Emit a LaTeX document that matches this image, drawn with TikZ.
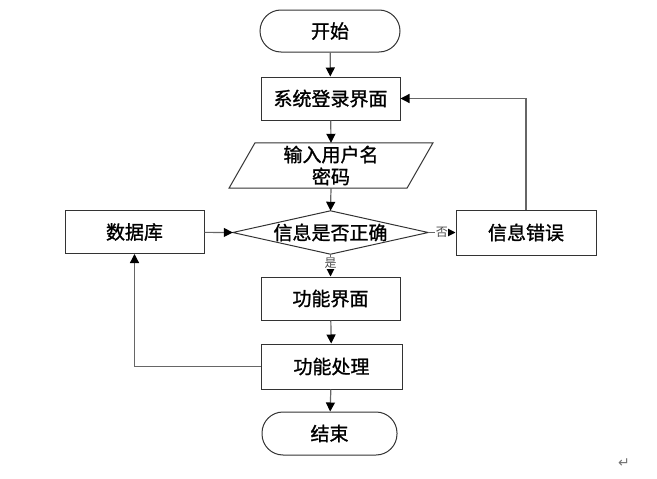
\documentclass[tikz,border=0pt]{standalone}
\usepackage{fontspec}
\newfontfamily\cjk[FakeBold=1.2]{Noto Sans CJK SC}
\newfontfamily\cjklight{Noto Sans CJK SC}
\newfontfamily\dejavu{DejaVu Sans}
\usetikzlibrary{arrows.meta}
\tikzset{
  box/.style={draw=black!80, line width=1pt, minimum width=139pt, minimum height=43pt, inner sep=0pt, font=\cjk\fontsize{19}{22}\selectfont},
  term/.style={box, rounded corners=21pt},
  plain/.style={inner sep=0pt, font=\cjk\fontsize{19}{22}\selectfont},
  shapeline/.style={draw=black!80, line width=1pt},
  conn/.style={draw=black!60, line width=1.2pt, -{Triangle[length=9pt,width=9pt,color=black]}},
  lbl/.style={fill=white, inner sep=0.5pt, font=\cjklight\fontsize{12}{13}\selectfont, text=black!70}
}
\begin{document}
\begin{tikzpicture}[x=1pt,y=-1pt]
\useasboundingbox (0,0) rectangle (657,479);
\node[term, minimum width=140pt, minimum height=42pt] (s) at (330,31) {开始};
\node[box] (login) at (330.5,98.5) {系统登录界面};
\node[plain, align=center, minimum width=178pt, minimum height=45pt] (inp) at (331,165.5) {输入用户名\\密码};
\draw[shapeline] ([xshift=-76pt]inp.north) -- ([xshift=102pt]inp.north) -- ([xshift=76pt]inp.south) -- ([xshift=-102pt]inp.south) -- cycle;
\node[plain, minimum width=195pt, minimum height=43pt] (dec) at (330.5,232.5) {信息是否正确};
\draw[shapeline] (dec.west) -- (dec.north) -- (dec.east) -- (dec.south) -- cycle;
\node[box] (db) at (134.5,232) {数据库};
\node[box, minimum width=140pt, minimum height=45pt] (err) at (526,232.5) {信息错误};
\node[box] (f1) at (330.5,298.5) {功能界面};
\node[box, minimum width=141pt, minimum height=45pt] (f2) at (331.5,366.5) {功能处理};
\node[term, minimum width=135pt, minimum height=43pt] (e) at (329.5,433.5) {结束};
\node[inner sep=0pt, font=\dejavu\fontsize{14}{14}\selectfont, text=black!55] (ret) at (624,463) {↵};

\draw[conn] (s) -- (login);
\draw[conn] (login) -- (inp.north);
\draw[conn] (inp.south) -- (dec.north);
\draw[conn] (db) -- (dec.west);
\draw[conn] (dec.east) -- node[lbl]{否} (err);
\draw[conn] (dec.south) -- node[lbl, pos=0.4]{是} (f1);
\draw[conn] (err.north) |- (login.east);
\draw[conn] (f1) -- (f2);
\draw[conn] (f2.west) -| (db.south);
\draw[conn] (f2) -- (e);
\end{tikzpicture}
\end{document}
